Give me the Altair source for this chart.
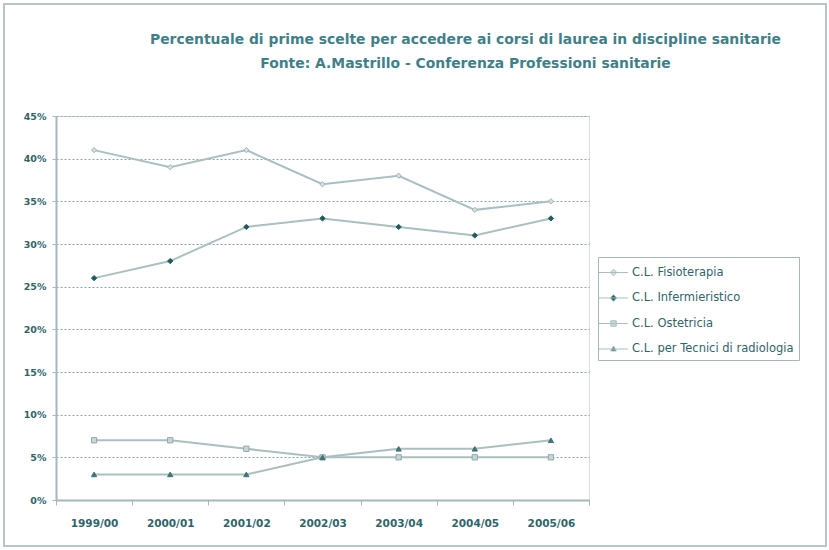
import altair as alt
import pandas as pd

years = ["1999/00", "2000/01", "2001/02", "2002/03", "2003/04", "2004/05", "2005/06"]
series_names = ["C.L. Fisioterapia", "C.L. Infermieristico", "C.L. Ostetricia",
                "C.L. per Tecnici di radiologia"]
fisioterapia = [41, 39, 41, 37, 38, 34, 35]
infermieristico = [26, 28, 32, 33, 32, 31, 33]
ostetricia = [7, 7, 6, 5, 5, 5, 5]
tecnici = [3, 3, 3, 5, 6, 6, 7]
y_ticks = [0, 0.05, 0.10, 0.15, 0.20, 0.25, 0.30, 0.35, 0.40, 0.45]

rows = []
for name, vals in zip(series_names, [fisioterapia, infermieristico, ostetricia, tecnici]):
    for yr, v in zip(years, vals):
        rows.append({"series": name, "year": yr, "value": v / 100})
df = pd.DataFrame(rows)

LINE = "#a9bfc2"
DARK = "#1f5c62"
TEXT = "#2f6469"
AXIS = "#a3b8bb"

marker_shapes = ["diamond", "diamond", "square", "triangle-up"]
marker_fills = ["#d3dfe0", DARK, "#c9d6d8", "#3f7479"]
marker_strokes = ["#9fb4b7", DARK, "#8fa8ab", "#3f7479"]
legend_paths = [
    "M-1.45,0H1.45M0,-0.33L0.33,0L0,0.33L-0.33,0Z",
    "M-1.45,0H1.45M0,-0.33L0.33,0L0,0.33L-0.33,0Z",
    "M-1.45,0H1.45M-0.27,-0.27H0.27V0.27H-0.27Z",
    "M-1.45,0H1.45M0,-0.3L0.28,0.2H-0.28Z",
]

x_enc = alt.X(
    "year:N", sort=years, bandPosition=0.5,
    scale=alt.Scale(type="band", paddingInner=0, paddingOuter=0),
    axis=alt.Axis(title=None, labelAngle=0, tickBand="extent", tickSize=5,
                  tickColor=AXIS, domainColor=AXIS, domainWidth=2,
                  labelFont="DejaVu Sans", labelFontSize=10.5, labelFontWeight="bold",
                  labelColor=TEXT, labelPadding=13, grid=False),
)
y_enc = alt.Y(
    "value:Q", scale=alt.Scale(domain=[0, 0.45], nice=False, zero=True),
    axis=alt.Axis(title=None, values=y_ticks, format=".0%", grid=True,
                  gridDash=[2, 2], gridColor="#86a6aa", gridWidth=1.2,
                  domainColor=AXIS, domainWidth=2, tickColor=AXIS, tickSize=4,
                  labelFont="DejaVu Sans", labelFontSize=9.5, labelFontWeight="bold",
                  labelColor=TEXT, labelPadding=6),
)

base = alt.Chart(df)

lines = base.mark_line(color=LINE, strokeWidth=2).encode(x=x_enc, y=y_enc, detail="series:N")

points = base.mark_point(filled=True, size=28, strokeWidth=1, opacity=1).encode(
    x=x_enc, y=y_enc,
    shape=alt.Shape("series:N", scale=alt.Scale(domain=series_names, range=marker_shapes), legend=None),
    fill=alt.Fill("series:N", scale=alt.Scale(domain=series_names, range=marker_fills), legend=None),
    stroke=alt.Stroke("series:N", scale=alt.Scale(domain=series_names, range=marker_strokes), legend=None),
)

leg = alt.Legend(title=None, orient="none", legendX=542, legendY=141,
                 padding=5, strokeColor=AXIS, fillColor="white",
                 labelFont="DejaVu Sans", labelFontSize=11.5, labelColor=TEXT, labelLimit=400,
                 symbolSize=400, symbolStrokeWidth=1, symbolOpacity=1,
                 rowPadding=9.5, labelOffset=8)

legend_layer = base.transform_filter("false").mark_point(
    filled=True, strokeWidth=1, opacity=1
).encode(
    x=x_enc, y=y_enc,
    shape=alt.Shape("series:N", scale=alt.Scale(domain=series_names, range=legend_paths), legend=leg),
    fill=alt.Fill("series:N", scale=alt.Scale(domain=series_names, range=marker_fills), legend=leg),
    stroke=alt.value(LINE),
)

frame = alt.Chart(pd.DataFrame({"a": [0]})).mark_rect(
    fill="transparent", stroke="#b5c6c8", strokeWidth=2
).encode(x=alt.value(-52), x2=alt.value(770), y=alt.value(-112), y2=alt.value(430))

chart = alt.layer(frame, lines, points, legend_layer).resolve_scale(
    shape="independent", fill="independent", stroke="independent"
).properties(
    width=533, height=384,
    autosize=alt.AutoSizeParams(type="none"),
    padding={"left": 56, "top": 116, "right": 240, "bottom": 50},
    title=alt.TitleParams(
        text=["Percentuale di prime scelte per accedere ai corsi di laurea in discipline sanitarie",
              "Fonte: A.Mastrillo - Conferenza Professioni sanitarie"],
        anchor="middle", dx=143, dy=108, font="DejaVu Sans", fontSize=13.9, fontWeight="bold",
        color="#3f8088", lineHeight=24, offset=40),
).configure_view(stroke=AXIS, strokeWidth=2).configure(background="white")

chart.save("out.html", embed_options={"renderer": "svg", "actions": False})
